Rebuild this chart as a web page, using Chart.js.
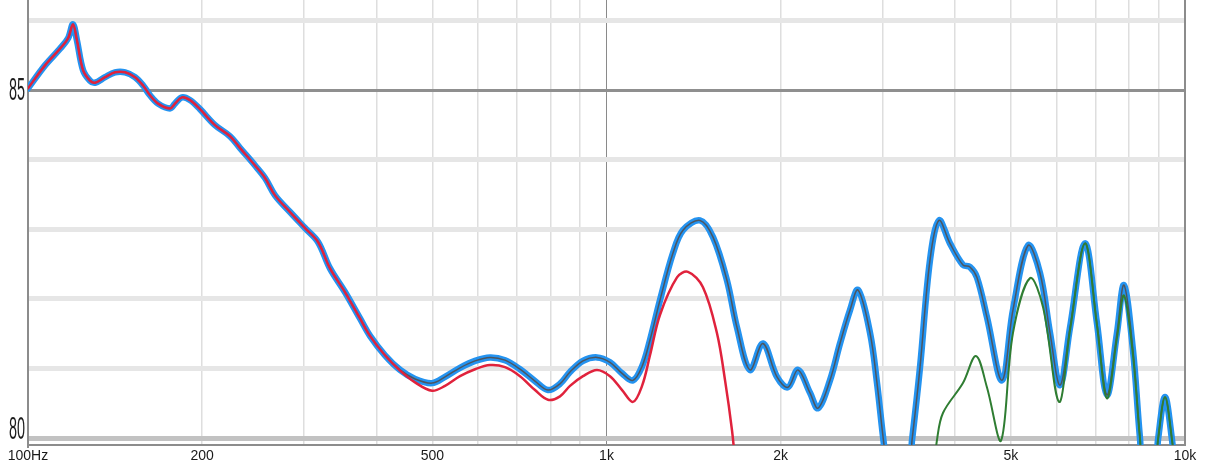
<!DOCTYPE html>
<html>
<head>
<meta charset="utf-8">
<script src="https://cdn.jsdelivr.net/npm/chart.js@4/dist/chart.umd.min.js"></script>
<style>
html, body { margin: 0; padding: 0; background: #fff; }
#wrap { width: 1212px; height: 466px; }
</style>
</head>
<body>
<div id="wrap"><canvas id="frChart" width="1212" height="466"></canvas></div>
<script>
// tick values and labels
var xTicks = [100, 200, 300, 400, 500, 600, 700, 800, 900, 1000, 2000, 3000, 4000, 5000, 6000, 7000, 8000, 9000, 10000];
var xLabels = { 100: '100Hz', 200: '200', 500: '500', 1000: '1k', 2000: '2k', 5000: '5k', 10000: '10k' };
var yTicks = [80, 81, 82, 83, 84, 85, 86];
var yLabels = { 80: '80', 85: '85' };

// blue trace (Hz / dB)
var blueFreq = [100, 107, 113.6, 117.3, 119.6, 121.5, 124.5, 128, 130.6, 135.9,
  141.4, 147.2, 153.1, 158.1, 162.5, 167.8, 176, 179.5, 184.6, 190.6,
  198.3, 210.5, 223.5, 232.6, 246.9, 256.9, 267.3, 283.8, 301.2, 317.2,
  332.7, 353.1, 374.9, 390.1, 414.1, 439.7, 466.7, 499.4, 525.9, 558.2,
  592.6, 629, 667.7, 708.7, 752.3, 792.2, 831, 864.8, 910.7, 962.9,
  1014, 1064, 1111, 1152, 1189, 1237, 1303, 1356, 1451, 1528,
  1615, 1681, 1770, 1864, 1971, 2059, 2143, 2248, 2321, 2434,
  2533, 2636, 2722, 2855, 2935, 3018, 3066, 3320, 3374, 3483,
  3624, 3756, 3924, 4132, 4249, 4369, 4546, 4826, 5042, 5354,
  5616, 5844, 6081, 6328, 6716, 7044, 7330, 7628, 7844, 8130,
  8359, 8493, 8874, 8980, 9235, 9497, 9610];
var blueDb = [85.03, 85.36, 85.60, 85.75, 85.95, 85.72, 85.29, 85.14, 85.11, 85.19,
  85.26, 85.26, 85.19, 85.07, 84.93, 84.81, 84.74, 84.81, 84.90, 84.86,
  84.73, 84.50, 84.34, 84.17, 83.92, 83.74, 83.49, 83.25, 83.02, 82.82,
  82.44, 82.10, 81.72, 81.47, 81.19, 80.98, 80.85, 80.79, 80.88, 81.01,
  81.11, 81.16, 81.12, 80.99, 80.82, 80.69, 80.78, 80.95, 81.11, 81.16,
  81.09, 80.93, 80.83, 81.03, 81.41, 81.98, 82.66, 82.99, 83.13, 82.89,
  82.27, 81.59, 80.98, 81.36, 80.88, 80.73, 80.98, 80.65, 80.43, 80.83,
  81.36, 81.84, 82.13, 81.51, 80.79, 79.90, 79.54, 79.54, 79.97, 81.02,
  82.56, 83.13, 82.80, 82.49, 82.46, 82.31, 81.74, 80.83, 81.84, 82.77,
  82.37, 81.51, 80.76, 81.59, 82.80, 81.65, 80.62, 81.51, 82.20, 81.26,
  80.00, 79.54, 79.54, 79.97, 80.59, 79.97, 79.54];

// red trace
var redFreq = [100, 107, 113.6, 117.3, 119.6, 121.5, 124.5, 128, 130.6, 135.9,
  141.4, 147.2, 153.1, 158.1, 162.5, 167.8, 176, 179.5, 184.6, 190.6,
  198.3, 210.5, 223.5, 232.6, 246.9, 256.9, 267.3, 283.8, 301.2, 317.2,
  332.7, 353.1, 374.9, 390.1, 414.1, 439.7, 466.7, 499.4, 525.9, 558.2,
  592.6, 629, 667.7, 708.7, 752.3, 792.2, 831, 864.8, 910.7, 962.9,
  1014, 1064, 1111, 1152, 1189, 1237, 1324, 1383, 1468, 1552,
  1603, 1648, 1674];
var redDb = [85.03, 85.36, 85.60, 85.75, 85.95, 85.72, 85.29, 85.14, 85.11, 85.19,
  85.26, 85.26, 85.19, 85.07, 84.93, 84.81, 84.74, 84.81, 84.90, 84.86,
  84.73, 84.50, 84.34, 84.17, 83.92, 83.74, 83.49, 83.25, 83.02, 82.82,
  82.44, 82.10, 81.72, 81.47, 81.19, 80.97, 80.80, 80.68, 80.75, 80.89,
  80.99, 81.05, 81.02, 80.89, 80.69, 80.55, 80.60, 80.75, 80.89, 80.98,
  80.89, 80.69, 80.52, 80.75, 81.19, 81.77, 82.31, 82.39, 82.17, 81.51,
  80.83, 80.11, 79.54];

// green trace
var greenFreq = [3682, 3726, 3816, 4132, 4351, 4546, 4807, 5042, 5397, 5684,
  6057, 6328, 6716, 7044, 7330, 7628, 7844, 8130, 8359, 8493,
  8874, 8980, 9235, 9497, 9610];
var greenDb = [79.54, 79.97, 80.36, 80.79, 81.18, 80.73, 79.96, 81.51, 82.30, 81.88,
  80.52, 81.55, 82.80, 81.62, 80.57, 81.44, 82.05, 81.19, 80.00, 79.54,
  79.54, 79.97, 80.59, 79.97, 79.54];

function pts(fs, ds) {
  return fs.map(function (f, i) { return { x: f, y: ds[i] }; });
}

var frameRight = {
  id: 'frameRight',
  afterDraw: function (chart) {
    var a = chart.chartArea, c = chart.ctx;
    c.save();
    c.strokeStyle = '#8c8c8c';
    c.lineWidth = 2;
    c.beginPath();
    c.moveTo(a.right, a.top);
    c.lineTo(a.right, a.bottom + 1);
    c.stroke();
    c.restore();
  }
};

// narrow tall y labels like the original
var narrowYLabels = {
  id: 'narrowYLabels',
  afterDraw: function (chart) {
    var ys = chart.scales.y, c = chart.ctx;
    c.save();
    c.fillStyle = '#1e1e1e';
    c.font = '32px "Liberation Sans", Arial, sans-serif';
    c.textAlign = 'right';
    c.textBaseline = 'middle';
    ys.ticks.forEach(function (t) {
      var txt = yLabels[t.value];
      if (!txt) return;
      var py = ys.getPixelForValue(t.value);
      if (py > chart.chartArea.bottom - 14) py = chart.chartArea.bottom - 16;
      c.save();
      c.translate(ys.right - 3, py + 1);
      c.scale(0.45, 1);
      c.fillText(txt, 0, 0);
      c.restore();
    });
    c.restore();
  }
};

var ctx = document.getElementById('frChart').getContext('2d');
var frChart = new Chart(ctx, {
  type: 'line',
  data: {
    datasets: [{
      label: 'green',
      data: pts(greenFreq, greenDb),
      borderColor: '#2f7d32',
      borderWidth: 2,
      order: 0
    }, {
      label: 'red',
      data: pts(redFreq, redDb),
      borderColor: '#e0223c',
      borderWidth: 2.5,
      order: 1
    }, {
      label: 'blue core',
      data: pts(blueFreq, blueDb),
      borderColor: '#4d555f',
      borderWidth: 1.5,
      order: 2
    }, {
      label: 'blue',
      data: pts(blueFreq, blueDb),
      borderColor: '#2493f0',
      borderWidth: 6.5,
      order: 3
    }]
  },
  options: {
    responsive: false,
    animation: false,
    clip: 0,
    layout: { padding: { left: 0, right: 27, top: 0, bottom: 0 } },
    elements: {
      point: { radius: 0 },
      line: { tension: 0.35, borderCapStyle: 'round', borderJoinStyle: 'round' }
    },
    plugins: { legend: { display: false }, tooltip: { enabled: false } },
    scales: {
      x: {
        type: 'logarithmic',
        min: 100,
        max: 10000,
        afterBuildTicks: function (s) {
          s.ticks = xTicks.map(function (v) { return { value: v }; });
        },
        afterFit: function (s) { s.height = 21; },
        ticks: {
          autoSkip: false,
          maxRotation: 0,
          padding: 3,
          color: '#1a1a1a',
          font: { family: '"Liberation Sans", Arial, sans-serif', size: 14 },
          callback: function (v) { return xLabels[v] || ''; }
        },
        grid: {
          drawTicks: false,
          color: function (c) { return c.tick && c.tick.value === 1000 ? '#8a8a8a' : '#dedede'; },
          lineWidth: function (c) { return c.tick && c.tick.value === 1000 ? 1 : 1.5; }
        },
        border: { display: true, color: '#8c8c8c', width: 2 }
      },
      y: {
        min: 79.9,
        max: 86.3,
        afterBuildTicks: function (s) {
          s.ticks = yTicks.map(function (v) { return { value: v }; });
        },
        afterFit: function (s) { s.width = 28; },
        ticks: { display: false },
        grid: {
          drawTicks: false,
          color: function (c) {
            if (!c.tick) return '#e6e6e6';
            if (c.tick.value === 85) return '#8f8f8f';
            if (c.tick.value === 80) return '#c2c2c2';
            return '#e6e6e6';
          },
          lineWidth: function (c) { return c.tick && c.tick.value === 85 ? 3 : 5; }
        },
        border: { display: true, color: '#8c8c8c', width: 2 }
      }
    }
  },
  plugins: [frameRight, narrowYLabels]
});
</script>
</body>
</html>
